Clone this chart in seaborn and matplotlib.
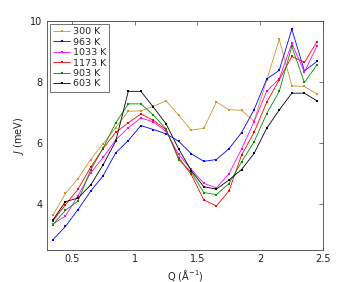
import numpy as np
import pandas as pd
import matplotlib
matplotlib.use("Agg")
import matplotlib.pyplot as plt
import seaborn as sns

# Q grid (1/Angstrom)
q = [0.35, 0.45, 0.55, 0.65, 0.75, 0.85, 0.95, 1.05, 1.15, 1.25, 1.35,
     1.45, 1.55, 1.65, 1.75, 1.85, 1.95, 2.05, 2.15, 2.25, 2.35, 2.45]

# J (meV)
j_300 = [3.63, 4.35, 4.83, 5.46, 5.98, 6.50, 7.04, 7.05, 7.20, 7.38, 6.91,
         6.42, 6.48, 7.34, 7.09, 7.07, 6.71, 8.05, 9.39, 7.87, 7.85, 7.60]
j_963 = [2.83, 3.27, 3.82, 4.42, 4.93, 5.68, 6.08, 6.57, 6.44, 6.30, 6.06,
         5.65, 5.40, 5.46, 5.81, 6.34, 7.09, 8.09, 8.38, 9.72, 8.36, 8.67]
j_1033 = [3.35, 3.61, 4.27, 5.02, 5.53, 6.10, 6.50, 6.82, 6.69, 6.38, 5.63,
          5.14, 4.68, 4.53, 4.99, 5.80, 6.70, 7.69, 8.10, 9.26, 8.32, 9.18]
j_1173 = [3.45, 3.98, 4.49, 5.20, 5.82, 6.35, 6.66, 6.95, 6.74, 6.44, 5.52,
          4.97, 4.14, 3.94, 4.43, 5.60, 6.35, 7.33, 8.07, 8.83, 8.64, 9.31]
j_903 = [3.33, 3.80, 4.10, 5.11, 5.84, 6.66, 7.28, 7.28, 6.91, 6.46, 5.46,
         5.05, 4.38, 4.31, 4.67, 5.38, 6.04, 6.96, 7.69, 9.16, 7.98, 8.56]
j_603 = [3.48, 4.08, 4.20, 4.62, 5.29, 6.06, 7.69, 7.69, 7.17, 6.63, 5.81,
         5.10, 4.57, 4.49, 4.79, 5.13, 5.66, 6.48, 7.08, 7.63, 7.63, 7.38]

labels = ['300 K', '963 K', '1033 K', '1173 K', '903 K', '603 K']
series = [j_300, j_963, j_1033, j_1173, j_903, j_603]
colors = ['#c8962e', '#0000ff', '#ff00ff', '#ff0000', '#009000', '#000000']

df = pd.concat([pd.DataFrame({'Q': q, 'J': s, 'T': lab}) for s, lab in zip(series, labels)])

sns.set_style('white')
plt.rcParams['font.family'] = ['DejaVu Sans']
plt.rcParams['xtick.direction'] = 'in'
plt.rcParams['ytick.direction'] = 'in'

fig = plt.figure(figsize=(3.58, 2.82), dpi=100)
ax = fig.add_axes([0.130, 0.1135, 0.773, 0.813])

sns.lineplot(data=df, x='Q', y='J', hue='T', hue_order=labels,
             palette=dict(zip(labels, colors)), marker='s', markersize=2.0,
             markeredgewidth=0, linewidth=0.6, sort=False, ax=ax)

ax.set_xlim(0.3, 2.5)
ax.set_ylim(2.5, 10)
ax.set_xticks([0.5, 1, 1.5, 2, 2.5])
ax.set_xticklabels(['0.5', '1', '1.5', '2', '2.5'])
ax.set_yticks([4, 6, 8, 10])
ax.tick_params(axis='both', labelsize=7, length=3, width=0.5, color='#444444',
               labelcolor='#222222', top=True, right=True, pad=3)
for sp in ax.spines.values():
    sp.set_linewidth(0.6)
    sp.set_color('#444444')

ax.set_xlabel('Q (Å$^{-1}$)', fontsize=7, labelpad=3, color='#222222')
ax.set_ylabel('$J$ (meV)', fontsize=7, labelpad=3, color='#222222')

leg = ax.legend(loc='upper left', fontsize=6.8, frameon=True, fancybox=False,
                edgecolor='#333333', handlelength=1.8, handletextpad=0.25,
                labelspacing=0.15, borderpad=0.35, borderaxespad=0.35)
leg.get_frame().set_linewidth(0.6)

fig.savefig('out.png', dpi=100)
